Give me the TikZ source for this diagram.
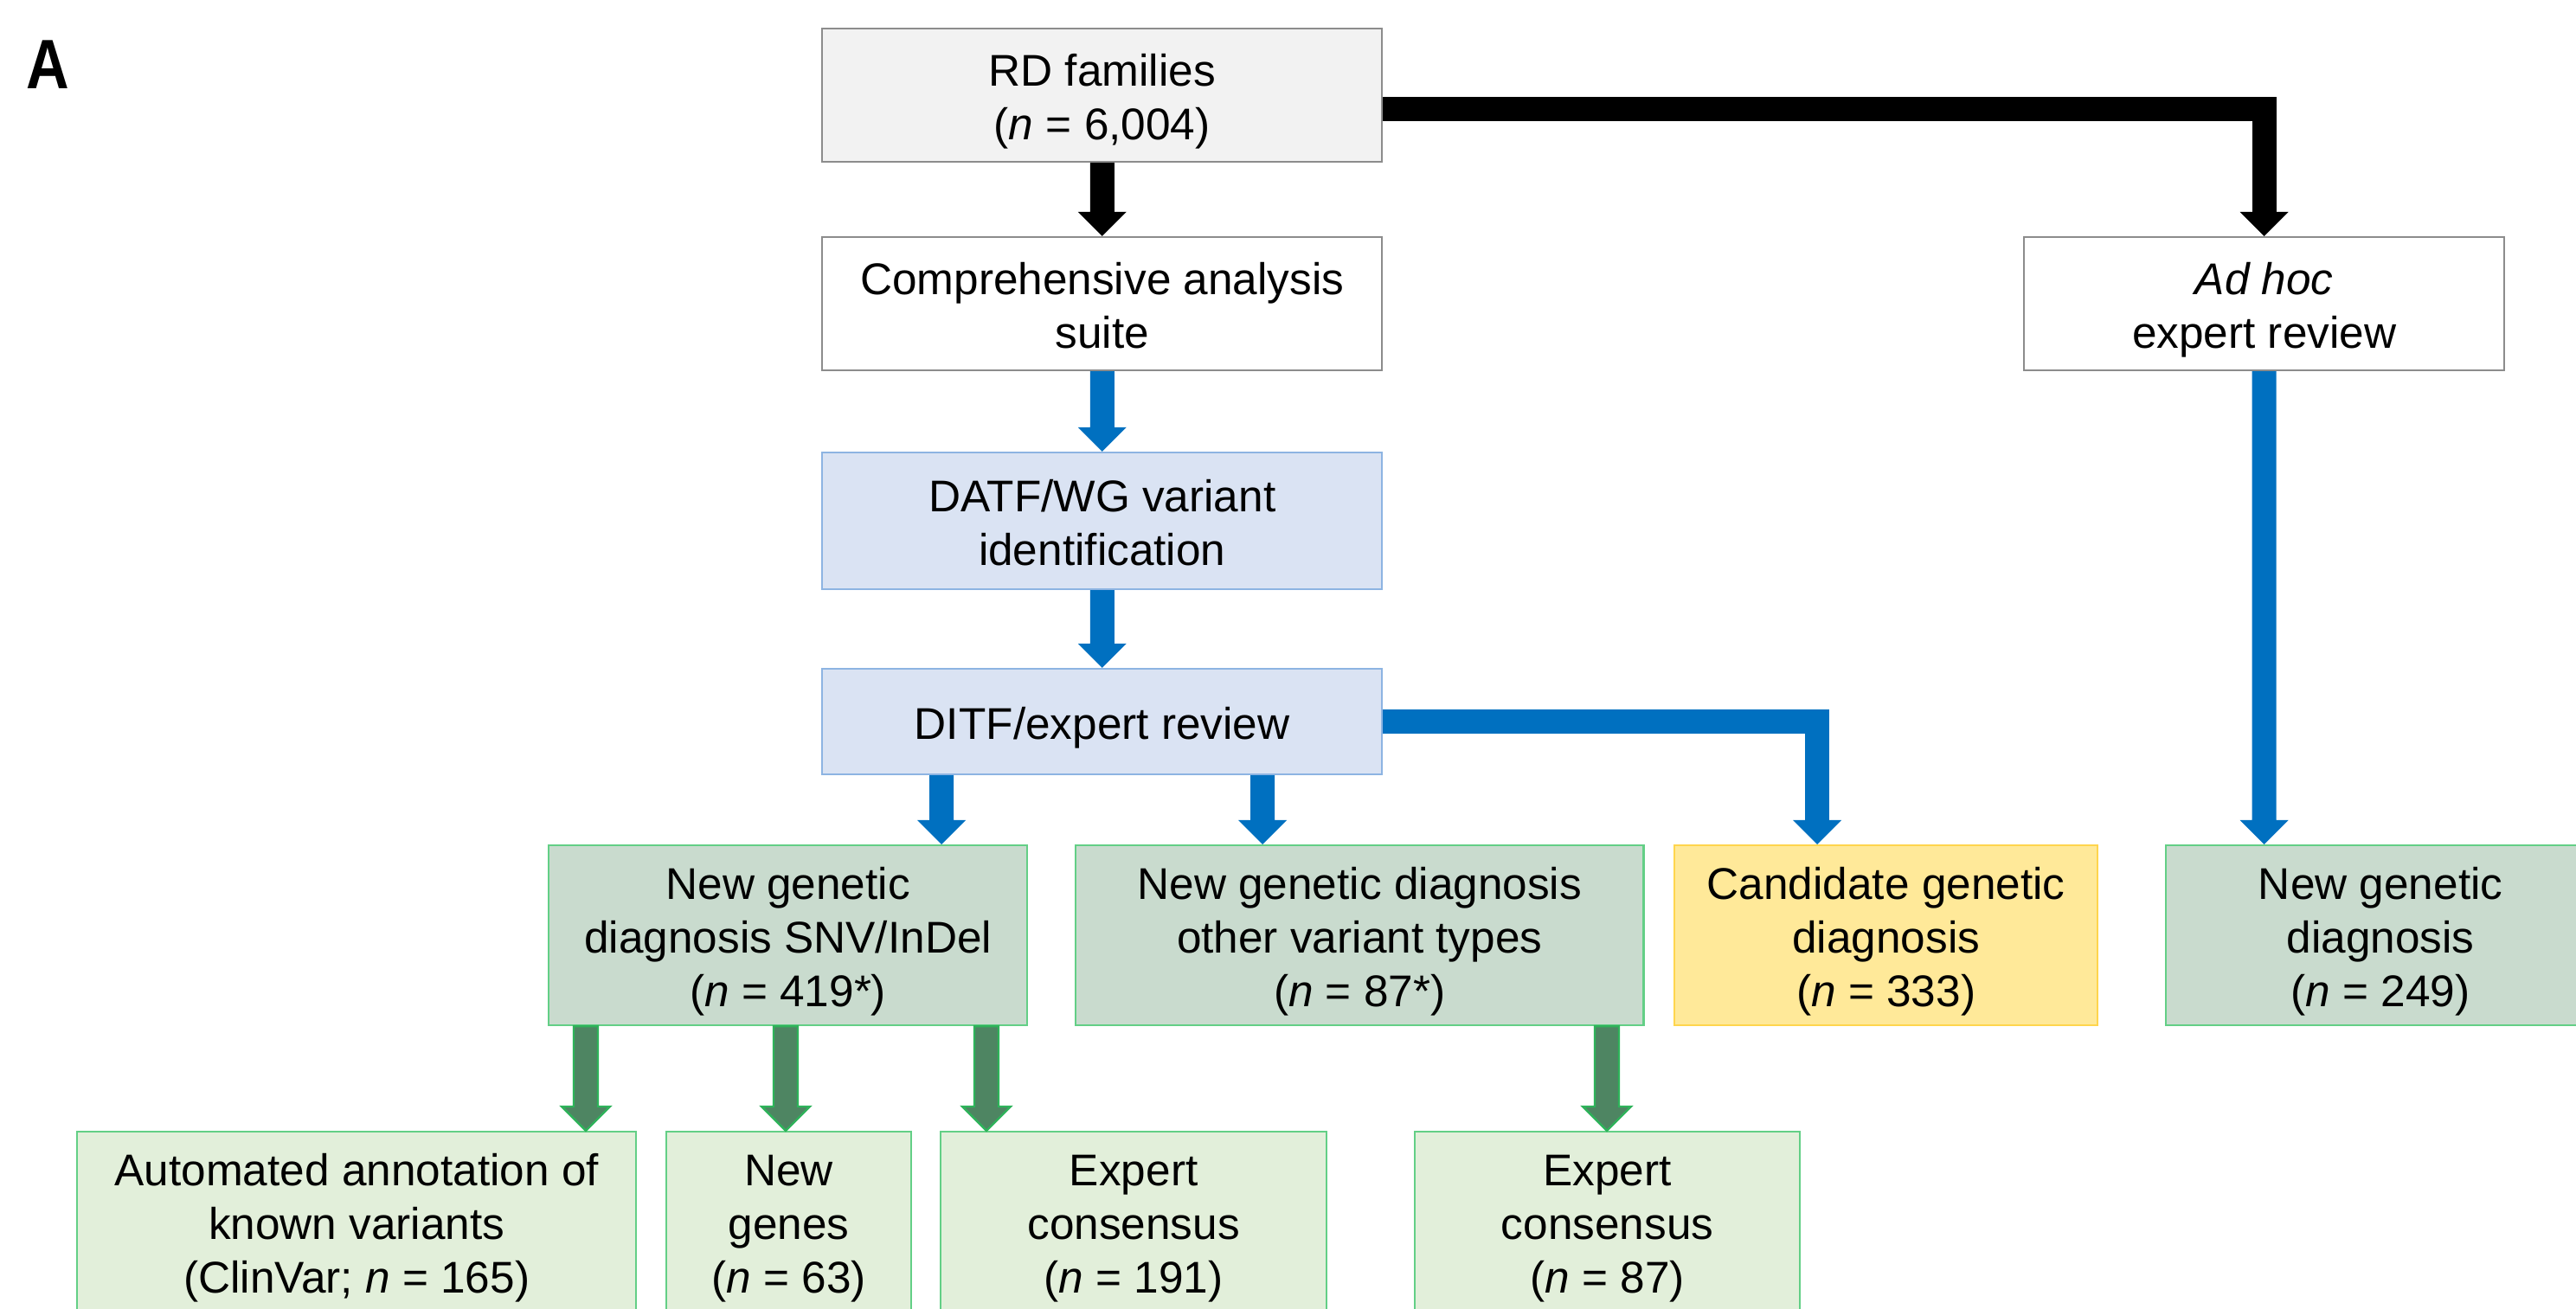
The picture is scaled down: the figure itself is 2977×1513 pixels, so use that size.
\documentclass[tikz,border=0pt]{standalone}
\usepackage{fontspec}
\setmainfont{Liberation Sans}
\usetikzlibrary{calc}
\definecolor{rdgray}{HTML}{F2F2F2}
\definecolor{boxgray}{HTML}{8C8C8C}
\definecolor{ltblue}{HTML}{DAE3F3}
\definecolor{ltblueline}{HTML}{8DB4E2}
\definecolor{arrblue}{HTML}{0070C0}
\definecolor{sage}{HTML}{C9DBCE}
\definecolor{greenline}{HTML}{63CF86}
\definecolor{palegreen}{HTML}{E2EFDA}
\definecolor{candyel}{HTML}{FFE999}
\definecolor{candline}{HTML}{FFD54D}
\definecolor{arrgreen}{HTML}{4E8562}
\definecolor{arrgreenline}{HTML}{2EB35A}
\newcommand\varrow[3]{\path[#1] ($(#2)+(-14,0)$) -- ($(#3)+(-14,-28)$) -- ($(#3)+(-28,-28)$) -- (#3) -- ($(#3)+(28,-28)$) -- ($(#3)+(14,-28)$) -- ($(#2)+(14,0)$) -- cycle;}
\newcommand\tipdown[2]{\path[#1] (#2) -- ++(-28,-28) -- ++(56,0) -- cycle;}
\newcommand\topst{\rule{0pt}{0.52cm}}
\newcommand\botst{\rule[-0.11cm]{0pt}{0.11cm}}
\begin{document}
\begin{tikzpicture}[x=0.01cm,y=-0.01cm,
  boxbase/.style={anchor=north west, inner sep=0pt, align=center, line width=0.6pt,
    font=\fontsize{14.6pt}{17.6pt}\selectfont},
  graybox/.style={boxbase, draw=boxgray, fill=rdgray},
  whitebox/.style={boxbase, draw=boxgray, fill=white},
  bluebox/.style={boxbase, draw=ltblueline, fill=ltblue},
  sagebox/.style={boxbase, draw=greenline, fill=sage},
  palebox/.style={boxbase, draw=greenline, fill=palegreen},
  yelbox/.style={boxbase, draw=candline, fill=candyel},
  blkarr/.style={fill=black},
  bluarr/.style={fill=arrblue},
  grnarr/.style={fill=arrgreen, draw=arrgreenline, line width=0.7pt},
  blkshaft/.style={draw=black, line width=0.28cm, line join=miter},
  blushaft/.style={draw=arrblue, line width=0.28cm, line join=miter}]
\useasboundingbox (0,0) rectangle (2977,1513);
\clip (0,0) rectangle (2977,1513);
\fill[white] (0,0) rectangle (2977,1513);

\node[font=\fontsize{23pt}{26pt}\selectfont\bfseries] (lbl) at (55,75) {\scalebox{0.85}[1]{A}};

\node[graybox, minimum width=6.47cm, minimum height=1.54cm] (rd) at (949,32) {\topst RD families\\(\textit{n} = 6,004)\botst};
\node[whitebox, minimum width=6.47cm, minimum height=1.54cm] (comp) at (949,273) {\topst Comprehensive analysis\\suite\botst};
\node[whitebox, minimum width=5.55cm, minimum height=1.54cm] (adhoc) at (2338,273) {\topst\textit{Ad hoc}\\expert review\botst};
\node[bluebox, minimum width=6.47cm, minimum height=1.58cm] (datf) at (949,522) {\topst DATF/WG variant\\identification\botst};
\node[bluebox, minimum width=6.47cm, minimum height=1.22cm] (ditf) at (949,772) {\topst DITF/expert review\botst};
\node[sagebox, minimum width=5.53cm, minimum height=2.08cm] (snv) at (633,976) {\topst New genetic\\diagnosis SNV/InDel\\(\textit{n} = 419*)\botst};
\node[sagebox, minimum width=6.56cm, minimum height=2.08cm] (other) at (1242,976) {\topst New genetic diagnosis\\other variant types\\(\textit{n} = 87*)\botst};
\node[yelbox, minimum width=4.89cm, minimum height=2.08cm] (cand) at (1934,976) {\topst Candidate genetic\\diagnosis\\(\textit{n} = 333)\botst};
\node[sagebox, minimum width=4.96cm, minimum height=2.08cm] (ngd) at (2502,976) {\topst New genetic\\diagnosis\\(\textit{n} = 249)\botst};
\node[palebox, minimum width=6.46cm, minimum height=2.08cm] (auto) at (88,1307) {\topst Automated annotation of\\known variants\\(ClinVar; \textit{n} = 165)\botst};
\node[palebox, minimum width=2.83cm, minimum height=2.08cm] (genes) at (769,1307) {\topst New\\genes\\(\textit{n} = 63)\botst};
\node[palebox, minimum width=4.46cm, minimum height=2.08cm] (exp1) at (1086,1307) {\topst Expert\\consensus\\(\textit{n} = 191)\botst};
\node[palebox, minimum width=4.45cm, minimum height=2.08cm] (exp2) at (1634,1307) {\topst Expert\\consensus\\(\textit{n} = 87)\botst};

% straight vertical arrows
\varrow{blkarr}{rd.south}{comp.north}
\varrow{bluarr}{comp.south}{datf.north}
\varrow{bluarr}{datf.south}{ditf.north}
\coordinate (d1s) at (ditf.south -| 1088,0);
\coordinate (d1e) at (snv.north -| 1088,0);
\varrow{bluarr}{d1s}{d1e}
\coordinate (d2s) at (ditf.south -| 1459,0);
\coordinate (d2e) at (other.north -| 1459,0);
\varrow{bluarr}{d2s}{d2e}
\coordinate (h1e) at (adhoc.south |- ngd.north);
\varrow{bluarr}{adhoc.south}{h1e}
\coordinate (g1s) at (snv.south -| 677,0);
\coordinate (g1e) at (auto.north -| 677,0);
\varrow{grnarr}{g1s}{g1e}
\coordinate (g2s) at (snv.south -| 908,0);
\coordinate (g2e) at (genes.north -| 908,0);
\varrow{grnarr}{g2s}{g2e}
\coordinate (g3s) at (snv.south -| 1140,0);
\coordinate (g3e) at (exp1.north -| 1140,0);
\varrow{grnarr}{g3s}{g3e}
\coordinate (g4s) at (other.south -| 1857,0);
\coordinate (g4e) at (exp2.north -| 1857,0);
\varrow{grnarr}{g4s}{g4e}

% elbow arrows
\coordinate (e1) at ($(rd.east)+(0,15.5)$);
\coordinate (e1t) at ($(adhoc.north)+(0,-27)$);
\draw[blkshaft] (e1) -| (e1t);
\tipdown{blkarr}{adhoc.north}
\coordinate (c2) at (cand.north -| 2100,0);
\coordinate (c2t) at ($(c2)+(0,-27)$);
\draw[blushaft] (ditf.east) -| (c2t);
\tipdown{bluarr}{c2}
\end{tikzpicture}
\end{document}
